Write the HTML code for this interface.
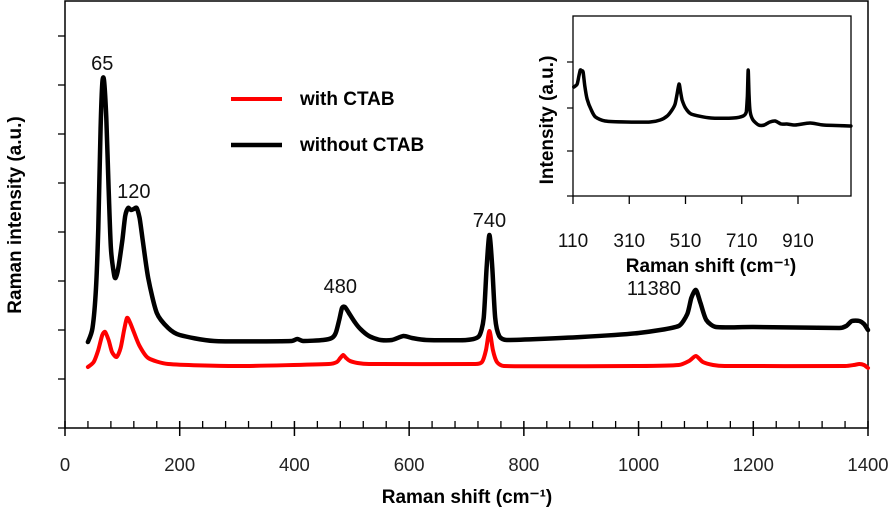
<!DOCTYPE html>
<html><head><meta charset="utf-8"><style>
html,body{margin:0;padding:0;background:#fff}
svg{display:block;font-family:"Liberation Sans",Arial,sans-serif}
</style></head><body>
<svg id="chart" width="893" height="511" viewBox="0 0 893 511">
<g id="main"></g>
<g id="inset"></g>
</svg>
<script>
// Main chart data (x: Raman shift cm-1, y: intensity a.u.)
const blackX = [40,48,54,58,62,65,68,72,76,80,85,88,93,100,105,110,115,120,125,130,135,145,160,180,200,260,395,405,415,450,465,472,478,483,488,495,505,515,530,550,570,590,605,630,700,722,730,735,740,745,750,757,770,900,1000,1070,1085,1092,1100,1108,1118,1135,1200,1350,1362,1372,1385,1393,1400];
const blackY = [86,100,140,200,300,345,348,310,240,180,155,150,160,188,212,220,218,219,220,210,190,150,115,100,93,87,87,89,87,88,90,95,108,120,121,115,106,99,92,88,88,92,90,88,88,92,110,160,193,160,110,92,88,91,95,102,114,130,138,125,108,101,101,100,102,107,107,104,98];
const redX = [40,50,58,65,70,76,82,90,97,103,108,113,120,130,145,180,300,460,474,480,485,490,497,510,530,715,727,734,740,746,753,765,1000,1070,1088,1100,1112,1130,1150,1360,1375,1385,1393,1400];
const redY = [61,66,78,93,96,88,76,71,80,98,110,106,96,82,70,64,62,64,66,70,73,70,67,65,64,64,66,78,97,78,66,62,62,63,67,72,66,63,62,62,63,64,63,60];
const xTicks = [0,200,400,600,800,1000,1200,1400];
const peakLabels = ["65","120","480","740","11380"];
const peakX = [65,120,480,740,1100];
const peakY = [358,230,135,201,133];
// Inset data
const insetX = [113,118,125,131,136,141,146,152,160,175,190,224,300,384,420,445,462,473,480,487,492,498,510,530,600,680,715,726,730,733,736,740,750,770,790,810,829,850,870,900,953,1000,1098];
const insetY = [109,110,112,120,126,125,124,110,97,86,79,75,74,74,76,80,86,92,102,112,105,96,88,82,78,78,80,84,100,126,100,84,76,71,71,74,75,72,72,71,73,71,70];
const insetTicks = [110,310,510,710,910];

const NS="http://www.w3.org/2000/svg";
function mk(parent,tag,attrs){const e=document.createElementNS(NS,tag);for(const k in attrs)e.setAttribute(k,attrs[k]);parent.appendChild(e);return e;}
const main=document.getElementById('main');
const inset=document.getElementById('inset');
const mx=v=>65+v*(803/1400);
const my=v=>428-v;
let e=mk(main,'rect',{x:65,y:1,width:803,height:427,fill:'none',stroke:'#000','stroke-width':1.5});


for(let i=0;i<=8;i++){const y=428-i*49;e=mk(main,'line',{x1:58,x2:65,y1:y,y2:y,stroke:'#000','stroke-width':1.3});

}
for(let v=40;v<1400;v+=40){if(v%200===0)continue;e=mk(main,'line',{x1:mx(v),x2:mx(v),y1:421,y2:428,stroke:'#000','stroke-width':1.3});

}
xTicks.forEach(v=>{e=mk(main,'line',{x1:mx(v),x2:mx(v),y1:421,y2:436,stroke:'#000','stroke-width':1.5});


e=mk(main,'text',{x:mx(v),y:471,'text-anchor':'middle','font-size':18.5,fill:'#222'});e.textContent=v;

});
e=mk(main,'text',{x:467,y:503,'text-anchor':'middle','font-size':19,'font-weight':'bold'});e.textContent='Raman shift (cm\u207B\u00B9)';


e=mk(main,'text',{x:0,y:0,'text-anchor':'middle','font-size':19,'font-weight':'bold',transform:'translate(21,215) rotate(-90)'});e.textContent='Raman intensity (a.u.)';


function path(xs,ys,fx,fy){
  const p=xs.map((x,i)=>[fx(x),fy(ys[i])]);
  let d='M'+p[0][0].toFixed(1)+' '+p[0][1].toFixed(1);
  for(let i=0;i<p.length-1;i++){
    const p0=p[Math.max(0,i-1)],p1=p[i],p2=p[i+1],p3=p[Math.min(p.length-1,i+2)];
    const dx=p2[0]-p1[0];
    let t1=(p2[0]-p0[0])/8, t2=(p3[0]-p1[0])/8;
    t1=Math.min(t1,dx/3); t2=Math.min(t2,dx/3);
    const s1=(p2[1]-p0[1])/((p2[0]-p0[0])||1), s2=(p3[1]-p1[1])/((p3[0]-p1[0])||1);
    const c1=[p1[0]+t1,p1[1]+s1*t1];
    const c2=[p2[0]-t2,p2[1]-s2*t2];
    d+=' C'+c1.map(v=>v.toFixed(1)).join(' ')+' '+c2.map(v=>v.toFixed(1)).join(' ')+' '+p2.map(v=>v.toFixed(1)).join(' ');
  }
  return d;
}
e=mk(main,'path',{d:path(redX,redY,mx,my),fill:'none',stroke:'#f00','stroke-width':4,'stroke-linejoin':'round','stroke-linecap':'round'});


e=mk(main,'path',{d:path(blackX,blackY,mx,my),fill:'none',stroke:'#000','stroke-width':4.5,'stroke-linejoin':'round','stroke-linecap':'round'});


peakLabels.forEach((t,i)=>{e=mk(main,'text',{x:mx(peakX[i])-(i===4?42:0),y:my(peakY[i]),'text-anchor':'middle','font-size':20,fill:'#111'});e.textContent=t;

});
e=mk(main,'line',{x1:231,x2:282,y1:99,y2:99,stroke:'#f00','stroke-width':4});


e=mk(main,'text',{x:300,y:105,'font-size':19,'font-weight':'bold'});e.textContent='with CTAB';


e=mk(main,'line',{x1:231,x2:282,y1:145,y2:145,stroke:'#000','stroke-width':4.5});


e=mk(main,'text',{x:300,y:151,'font-size':19,'font-weight':'bold'});e.textContent='without CTAB';


// inset
const ix=v=>573+(v-110)*0.28125;
const iy=v=>196-v;
e=mk(inset,'rect',{x:573,y:16,width:278,height:180,fill:'#fff',stroke:'#000','stroke-width':1.3});


[62,108,151,196].forEach(y=>{e=mk(inset,'line',{x1:567,x2:573,y1:y,y2:y,stroke:'#000','stroke-width':1.2});

});
insetTicks.forEach(v=>{e=mk(inset,'line',{x1:ix(v),x2:ix(v),y1:196,y2:204,stroke:'#000','stroke-width':1.3});


e=mk(inset,'text',{x:ix(v),y:247,'text-anchor':'middle','font-size':19,fill:'#111'});e.textContent=v;

});
e=mk(inset,'text',{x:711,y:272,'text-anchor':'middle','font-size':19,'font-weight':'bold'});e.textContent='Raman shift (cm\u207B\u00B9)';


e=mk(inset,'text',{x:0,y:0,'text-anchor':'middle','font-size':19,'font-weight':'bold',transform:'translate(553,120) rotate(-90)'});e.textContent='Intensity (a.u.)';


e=mk(inset,'path',{d:path(insetX,insetY,ix,iy),fill:'none',stroke:'#000','stroke-width':3.5,'stroke-linejoin':'round','stroke-linecap':'round'});


</script>
</body></html>
